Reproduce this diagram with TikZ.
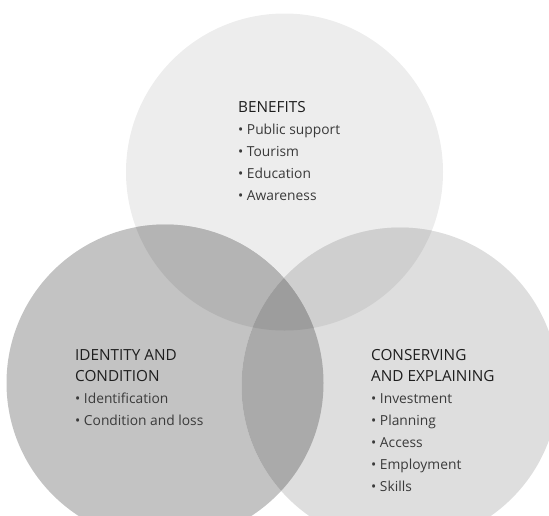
\documentclass[tikz,border=0pt]{standalone}
\usepackage{fontspec}
\setmainfont{Open Sans}
\definecolor{cT}{HTML}{EDEDED}
\definecolor{cL}{HTML}{C3C3C3}
\definecolor{cR}{HTML}{DEDEDE}
\definecolor{cTL}{HTML}{B4B4B4}
\definecolor{cTR}{HTML}{CFCFCF}
\definecolor{cLR}{HTML}{AAAAAA}
\definecolor{cAll}{HTML}{9D9D9D}
\definecolor{headcol}{HTML}{1E1E1E}
\definecolor{itemcol}{HTML}{3A3A3A}
\begin{document}
\begin{tikzpicture}[x=1pt,y=-1pt,
  head/.style={anchor=base west,inner sep=0pt,text=headcol,font=\fontsize{15.3}{18}\selectfont},
  item/.style={anchor=base west,inner sep=0pt,text=itemcol,font=\fontsize{13.8}{16}\selectfont}]
\useasboundingbox (0,0) rectangle (549,515);
\clip (0,0) rectangle (549,515);
\def\rr{158.5}
\coordinate (cT) at (284.5,172);
\coordinate (cL) at (165,383);
\coordinate (cR) at (400,386);
\fill[cT] (cT) circle[radius=\rr];
\fill[cL] (cL) circle[radius=\rr];
\fill[cR] (cR) circle[radius=\rr];
\begin{scope}\clip (cT) circle[radius=\rr]; \fill[cTL] (cL) circle[radius=\rr];\end{scope}
\begin{scope}\clip (cT) circle[radius=\rr]; \fill[cTR] (cR) circle[radius=\rr];\end{scope}
\begin{scope}\clip (cL) circle[radius=\rr]; \fill[cLR] (cR) circle[radius=\rr];\end{scope}
\begin{scope}\clip (cT) circle[radius=\rr]; \clip (cL) circle[radius=\rr]; \fill[cAll] (cR) circle[radius=\rr];\end{scope}
% top
\node[head] (b0) at (238,112) {BENEFITS};
\node[item] (b1) at (238,134) {• Public support};
\node[item] (b2) at (238,156) {• Tourism};
\node[item] (b3) at (238,178) {• Education};
\node[item] (b4) at (238,200) {• Awareness};
% left
\node[head] (l0) at (75,360) {IDENTITY AND};
\node[head] (l1) at (75,381) {CONDITION};
\node[item] (l2) at (75,403) {• Identification};
\node[item] (l3) at (75,425) {• Condition and loss};
% right
\node[head] (r0) at (371,360) {CONSERVING};
\node[head] (r1) at (371,381) {AND EXPLAINING};
\node[item] (r2) at (371,403) {• Investment};
\node[item] (r3) at (371,425) {• Planning};
\node[item] (r4) at (371,447) {• Access};
\node[item] (r5) at (371,469) {• Employment};
\node[item] (r6) at (371,491) {• Skills};
\end{tikzpicture}
\end{document}
